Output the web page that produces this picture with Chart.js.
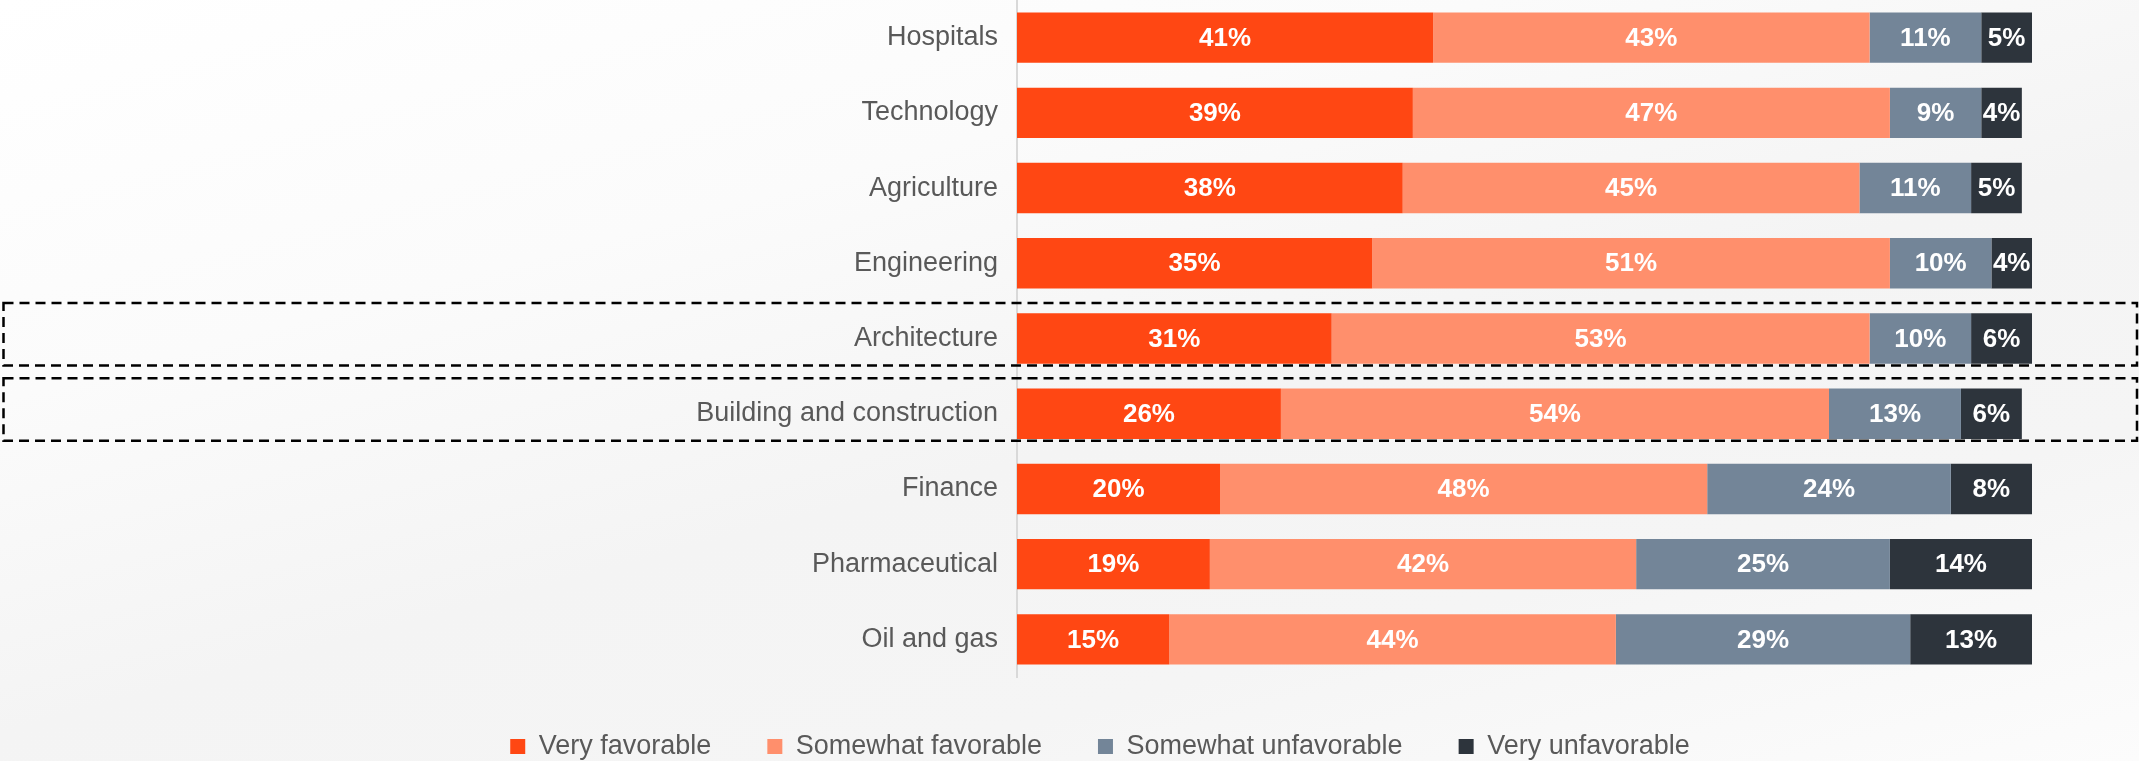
<!DOCTYPE html>
<html>
<head>
<meta charset="utf-8">
<script src="https://cdn.jsdelivr.net/npm/chart.js@4.4.1/dist/chart.umd.min.js"></script>
<style>
  html, body { margin: 0; padding: 0; overflow: hidden; }
  body {
    width: 2139px; height: 761px;
    background: linear-gradient(165deg, #ffffff 0%, #fbfbfb 30%, #f4f4f4 55%, #f5f5f5 75%, #fcfcfc 100%);
  }
  #wrap { position: relative; width: 2139px; height: 770px; }
</style>
</head>
<body>
<div id="wrap"><canvas id="myChart"></canvas></div>
<script>
const COLORS = {
  veryFav: '#FF4713',
  someFav: '#FF8F6C',
  someUnfav: '#738598',
  veryUnfav: '#2D343C',
  text: '#595959'
};
const FONT = '"Liberation Sans", Arial, sans-serif';

// categories, top to bottom
const sectors = ['Hospitals', 'Technology', 'Agriculture', 'Engineering', 'Architecture',
  'Building and construction', 'Finance', 'Pharmaceutical', 'Oil and gas'];

const veryFavorable      = [41, 39, 38, 35, 31, 26, 20, 19, 15];
const somewhatFavorable  = [43, 47, 45, 51, 53, 54, 48, 42, 44];
const somewhatUnfav      = [11, 9, 11, 10, 10, 13, 24, 25, 29];
const veryUnfav          = [5, 4, 5, 4, 6, 6, 8, 14, 13];

const highlighted = ['Architecture', 'Building and construction'];

// white % labels centred in each segment
const segmentLabels = {
  id: 'segmentLabels',
  afterDatasetsDraw(chart) {
    const ctx = chart.ctx;
    ctx.save();
    ctx.fillStyle = '#ffffff';
    ctx.font = 'bold 26px ' + FONT;
    ctx.textAlign = 'center';
    ctx.textBaseline = 'middle';
    chart.data.datasets.forEach((ds, i) => {
      const meta = chart.getDatasetMeta(i);
      meta.data.forEach((bar, j) => {
        const right = Math.min(bar.x, chart.chartArea.right);
        ctx.fillText(ds.data[j] + '%', (right + bar.base) / 2, bar.y + 1);
      });
    });
    ctx.restore();
  }
};

// dashed boxes round the highlighted rows
const dashedRows = {
  id: 'dashedRows',
  afterDraw(chart) {
    const ctx = chart.ctx;
    const y = chart.scales.y;
    ctx.save();
    ctx.strokeStyle = '#000000';
    ctx.lineWidth = 2.5;
    ctx.setLineDash([10, 6]);
    highlighted.forEach(name => {
      const c = y.getPixelForValue(sectors.indexOf(name));
      ctx.strokeRect(3.5, c - 35.5, chart.width - 5.5, 62.5);
    });
    ctx.restore();
  }
};

const ctx = document.getElementById('myChart').getContext('2d');

const config = {
  type: 'bar',
  data: {
    labels: sectors,
    datasets: [
      { label: 'Very favorable', data: veryFavorable, backgroundColor: COLORS.veryFav },
      { label: 'Somewhat favorable', data: somewhatFavorable, backgroundColor: COLORS.someFav },
      { label: 'Somewhat unfavorable', data: somewhatUnfav, backgroundColor: COLORS.someUnfav },
      { label: 'Very unfavorable', data: veryUnfav, backgroundColor: COLORS.veryUnfav }
    ]
  },
  options: {
    indexAxis: 'y',
    responsive: true,
    maintainAspectRatio: false,
    animation: false,
    datasets: {
      bar: { barPercentage: 0.67, categoryPercentage: 1, borderWidth: 0 }
    },
    layout: { padding: { left: 168, right: 107, top: 0, bottom: 0 } },
    plugins: {
      legend: {
        position: 'bottom',
        labels: {
          boxWidth: 15,
          boxHeight: 15,
          padding: 56,
          color: COLORS.text,
          font: { family: FONT, size: 27 }
        }
      },
      tooltip: { enabled: false }
    },
    scales: {
      x: {
        stacked: true,
        min: 0,
        max: 100,
        display: false
      },
      y: {
        stacked: true,
        grid: { display: false, drawTicks: false },
        border: { display: true, color: '#d9d9d9', width: 2 },
        ticks: {
          color: COLORS.text,
          padding: 19,
          font: { family: FONT, size: 27 }
        },
        afterFit(scale) {
          scale.width = 849;
          // rows are offset, so no label overhang to reserve
          scale.paddingTop = 0;
          scale.paddingBottom = 0;
        }
      }
    }
  },
  plugins: [segmentLabels, dashedRows]
};

var myChart = new Chart(ctx, config);
</script>
</body>
</html>
